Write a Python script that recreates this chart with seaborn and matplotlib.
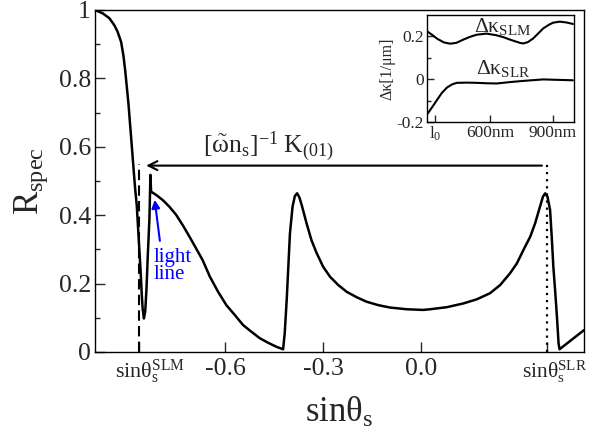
import numpy as np
import pandas as pd
import matplotlib
matplotlib.use('Agg')
import matplotlib.pyplot as plt
import seaborn as sns

#%% data
sin_theta = [-1.0, -0.976, -0.956, -0.941, -0.931, -0.920, -0.913, -0.907, -0.902,
             -0.897, -0.893, -0.889, -0.885, -0.881, -0.877, -0.872, -0.869, -0.866,
             -0.863, -0.860, -0.857, -0.854, -0.850, -0.846, -0.842, -0.838, -0.833,
             -0.830, -0.828, -0.812, -0.792, -0.772, -0.751, -0.731, -0.710, -0.690,
             -0.670, -0.648, -0.623, -0.597, -0.571, -0.546, -0.520, -0.494, -0.469,
             -0.443, -0.423, -0.418, -0.412, -0.407, -0.402, -0.394, -0.387, -0.380,
             -0.373, -0.366, -0.351, -0.336, -0.320, -0.300, -0.279, -0.254, -0.228,
             -0.197, -0.167, -0.131, -0.095, -0.044, 0.007, 0.028, 0.079, 0.130,
             0.171, 0.212, 0.243, 0.273, 0.294, 0.314, 0.335, 0.350, 0.365, 0.374,
             0.381, 0.388, 0.396, 0.401, 0.406, 0.412, 0.417, 0.422, 0.425, 0.5]
r_spec = [1.0, 0.990, 0.976, 0.956, 0.937, 0.907, 0.868, 0.820, 0.771,
          0.722, 0.673, 0.625, 0.576, 0.527, 0.479, 0.430, 0.381, 0.332,
          0.284, 0.235, 0.176, 0.128, 0.098, 0.118, 0.186, 0.284, 0.391,
          0.518, 0.469, 0.459, 0.444, 0.425, 0.401, 0.371, 0.337, 0.303,
          0.269, 0.221, 0.177, 0.137, 0.108, 0.079, 0.059, 0.040, 0.027,
          0.015, 0.008, 0.055, 0.152, 0.249, 0.347, 0.425, 0.456, 0.464,
          0.452, 0.430, 0.376, 0.327, 0.289, 0.249, 0.220, 0.196, 0.176,
          0.160, 0.147, 0.137, 0.130, 0.125, 0.123, 0.125, 0.131, 0.142,
          0.154, 0.172, 0.196, 0.230, 0.259, 0.298, 0.337, 0.376, 0.425, 0.454,
          0.464, 0.454, 0.415, 0.337, 0.249, 0.172, 0.103, 0.025, 0.008, 0.064]

sin_slm = -0.865   # dashed line
sin_slr = 0.388    # dotted line
arrow_y = 0.545
arrow_left = -0.843
arrow_right = 0.371

# inset
lam_slm = [303, 325, 347, 380, 410, 440, 473, 505, 537, 584, 632, 665, 695, 742,
           758, 780, 805, 830, 853, 880, 900, 932, 965, 995]
dk_slm = [0.222, 0.207, 0.19, 0.172, 0.166, 0.170, 0.185, 0.198, 0.208, 0.213,
          0.205, 0.196, 0.185, 0.170, 0.167, 0.173, 0.19, 0.214, 0.237, 0.254,
          0.264, 0.269, 0.265, 0.258]
lam_slr = [303, 325, 347, 370, 395, 420, 442, 490, 537, 585, 632, 700, 758, 853,
           920, 995]
dk_slr = [-0.161, -0.13, -0.098, -0.065, -0.039, -0.024, -0.017, -0.016, -0.017,
          -0.019, -0.02, -0.013, -0.008, -0.001, -0.003, -0.005]
lam_ticks = [340, 600, 900]
lam_labels = ['l$_\\mathregular{0}$', '600nm', '900nm']

#%% style
sns.set_style('ticks')
plt.rcParams['font.family'] = ['Liberation Serif', 'DejaVu Serif']
plt.rcParams['mathtext.fontset'] = 'custom'
plt.rcParams['mathtext.rm'] = 'Liberation Serif'
plt.rcParams['mathtext.it'] = 'Liberation Serif:italic'
plt.rcParams['axes.unicode_minus'] = False
plt.rcParams['xtick.direction'] = 'in'
plt.rcParams['ytick.direction'] = 'in'
plt.rcParams['axes.linewidth'] = 1.0
plt.rcParams['axes.edgecolor'] = 'black'

fig = plt.figure(figsize=(5.9, 4.38), dpi=100)
ax = fig.add_axes([95/590, 1-352/438, 489/590, 342/438])

sns.lineplot(x=sin_theta, y=r_spec, sort=False, estimator=None, color='black',
             lw=1.8, ax=ax)
ax.vlines(sin_slm, 0, 0.55, colors='black', linestyles=(0, (5, 2.5)), lw=1.5)
ax.vlines(sin_slr, 0, 0.552, colors='black', linestyles=(0, (1, 2.2)), lw=1.6)
ax.annotate('', xy=(arrow_left, arrow_y), xytext=(arrow_right, arrow_y),
            arrowprops=dict(arrowstyle='->', lw=1.5, color='black',
                            shrinkA=0, shrinkB=0, mutation_scale=16))
ax.text(-0.668, 0.60, r'$\mathrm{[\tilde{\omega}n_s]^{-1}\ K_{(01)}}$',
        fontsize=18.5, va='center', ha='left')

ax.annotate('', xy=(-0.817, 0.445), xytext=(-0.801, 0.325),
            arrowprops=dict(arrowstyle='-|>', lw=1.5, color='blue',
                            shrinkA=0, shrinkB=0, mutation_scale=12))
ax.text(-0.821, 0.305, 'light\nline', color='blue', fontsize=15,
        va='top', ha='left', linespacing=0.9)

ax.set_xlim(-1.0, 0.5)
ax.set_ylim(0, 1)
ax.set_xticks([sin_slm, -0.6, -0.3, 0.0, sin_slr])
ax.set_xticklabels(['', '-0.6', '-0.3', '0.0', ''])
ax.set_yticks([0, 0.2, 0.4, 0.6, 0.8, 1.0])
ax.set_yticklabels(['0', '0.2', '0.4', '0.6', '0.8', '1'])
ax.set_yticks([0.1, 0.3, 0.5, 0.7, 0.9], minor=True)
ax.tick_params(axis='both', which='major', labelsize=18.5, length=7, width=1, pad=4)
ax.tick_params(axis='y', which='minor', length=3.5, width=1)
ax.tick_params(axis='y', which='major', pad=3)

xtr = ax.get_xaxis_transform()
ax.text(sin_slm - 0.075, -0.075, 'sinθ$_\\mathregular{s}^\\mathregular{SLM}$',
        transform=xtr, fontsize=16, ha='left', va='baseline')
ax.text(sin_slr - 0.078, -0.075, 'sinθ$_\\mathregular{s}^\\mathregular{SLR}$',
        transform=xtr, fontsize=15.5, ha='left', va='baseline')

ax.set_xlabel('sinθ$_\\mathregular{s}$', fontsize=25, labelpad=12)
ax.set_ylabel('R$_\\mathregular{spec}$', fontsize=25, labelpad=6)

#%% inset
axin = fig.add_axes([427/590, 1-122/438, 147/590, 107/438])
sns.lineplot(x=lam_slm, y=dk_slm, sort=False, estimator=None, color='black',
             lw=1.5, ax=axin)
sns.lineplot(x=lam_slr, y=dk_slr, sort=False, estimator=None, color='black',
             lw=1.5, ax=axin)
axin.set_xlim(300, 1000)
axin.set_ylim(-0.2, 0.3)
axin.set_xticks(lam_ticks)
axin.set_xticklabels(lam_labels)
axin.set_yticks([-0.2, 0, 0.2])
axin.set_yticklabels(['-0.2', '0', '0.2'])
axin.set_yticks([-0.1, 0.1], minor=True)
axin.tick_params(axis='both', which='major', labelsize=12.5, length=5, width=1, pad=2)
axin.tick_params(axis='y', which='minor', length=3, width=1)
axin.set_ylabel('Δκ[1/μm]', fontsize=11.5, labelpad=1)
axin.text(524, 0.222, 'Δκ$_\\mathregular{SLM}$', fontsize=15.5, ha='left', va='baseline')
axin.text(535, 0.023, 'Δκ$_\\mathregular{SLR}$', fontsize=15.5, ha='left', va='baseline')

fig.savefig('out.png', dpi=100)
